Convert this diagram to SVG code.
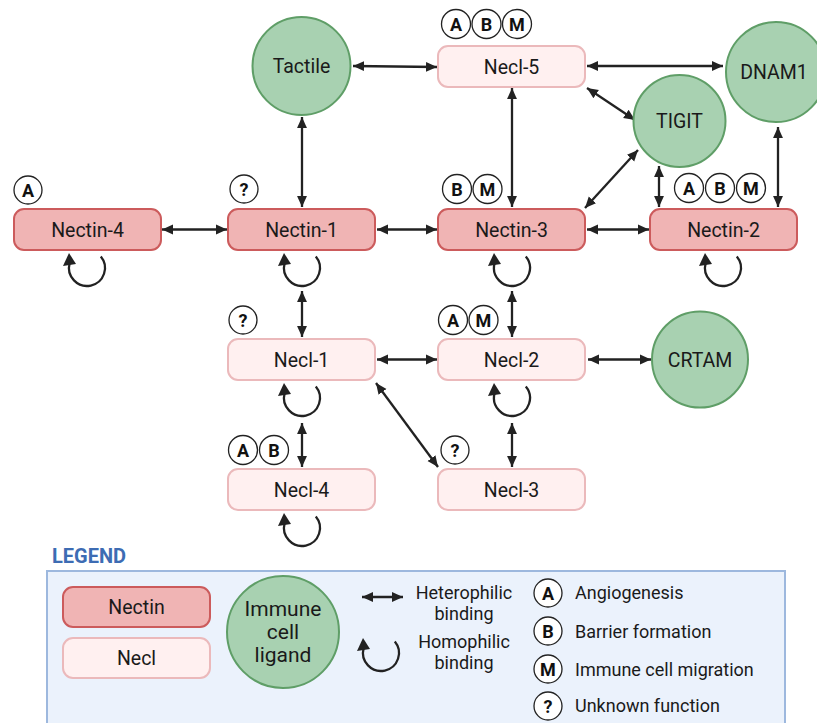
<svg xmlns="http://www.w3.org/2000/svg" xmlns:xlink="http://www.w3.org/1999/xlink" width="817" height="723" viewBox="0 0 817 723">
<defs>
<style>
.nectin{fill:#f0b4b4;stroke:#cc5b5c;stroke-width:2}
.necl{fill:#fff0f0;stroke:#ebb9bb;stroke-width:2}
.lig{fill:#a8d1b1;stroke:#5f9e67;stroke-width:2}
.lbl{font-family:Roboto,"Liberation Sans",sans-serif;font-size:19.5px;fill:#1a1a1a;text-anchor:middle}
.bdg circle{fill:#fff;stroke:#222;stroke-width:1.3}
.bdg text{font-family:Roboto,"Liberation Sans",sans-serif;font-size:18px;font-weight:bold;fill:#111;text-anchor:middle}
.con line{stroke:#222;stroke-width:2.3;marker-start:url(#ah);marker-end:url(#ah)}
.homo path{fill:none;stroke:#222;stroke-width:2.3}
.homo polygon{fill:#222}
.leg{font-family:Roboto,"Liberation Sans",sans-serif;font-size:18px;fill:#1a1a1a}
</style>
<marker id="ah" viewBox="0 0 10 10" refX="10" refY="5" markerWidth="11" markerHeight="11" orient="auto-start-reverse" markerUnits="userSpaceOnUse">
<path d="M0,0.5 L10,5 L0,9.5 z" fill="#222"/>
</marker>
<g id="homo" class="homo">
<path d="M13.8,-11.6 A18 18 0 1 1 -17.4,-4.7"/>
<polygon points="-18,-15 -24,-2 -11,-4"/>
</g>
</defs>

<g id="connectors" class="con">
<line x1="162" y1="229.5" x2="227" y2="229.5"/>
<line x1="377" y1="229.5" x2="437" y2="229.5"/>
<line x1="587" y1="229.5" x2="649" y2="229.5"/>
<line x1="353" y1="66" x2="437" y2="67"/>
<line x1="587" y1="66" x2="723" y2="66"/>
<line x1="302" y1="117" x2="302" y2="207"/>
<line x1="512" y1="88" x2="512" y2="207"/>
<line x1="587" y1="88" x2="635" y2="120"/>
<line x1="585" y1="208" x2="638" y2="150"/>
<line x1="659" y1="166" x2="659" y2="207"/>
<line x1="778" y1="127" x2="778" y2="207"/>
<line x1="302" y1="291" x2="302" y2="337"/>
<line x1="512" y1="291" x2="512" y2="337"/>
<line x1="377" y1="359.5" x2="437" y2="359.5"/>
<line x1="588" y1="359.5" x2="651" y2="359.5"/>
<line x1="376" y1="383" x2="438" y2="467"/>
<line x1="302" y1="423" x2="302" y2="467"/>
<line x1="512" y1="423" x2="512" y2="467"/>
</g>

<g id="homophilic">
<use xlink:href="#homo" href="#homo" x="87" y="268"/>
<use xlink:href="#homo" href="#homo" x="302" y="268"/>
<use xlink:href="#homo" href="#homo" x="512" y="268"/>
<use xlink:href="#homo" href="#homo" x="723" y="268"/>
<use xlink:href="#homo" href="#homo" x="302" y="398"/>
<use xlink:href="#homo" href="#homo" x="512" y="398"/>
<use xlink:href="#homo" href="#homo" x="302" y="528"/>
</g>

<g id="tactile"><circle class="lig" cx="301.5" cy="66" r="49"/><text class="lbl" x="301.5" y="73">Tactile</text></g>
<g id="dnam1"><circle class="lig" cx="776" cy="72" r="50"/><text class="lbl" x="774" y="79">DNAM1</text></g>
<g id="tigit"><circle class="lig" cx="679.5" cy="121" r="46"/><text class="lbl" x="679.5" y="128">TIGIT</text></g>
<g id="crtam"><circle class="lig" cx="700" cy="359.5" r="48"/><text class="lbl" x="700" y="366.5">CRTAM</text></g>

<g id="nectin-4"><rect class="nectin" x="14" y="209" width="147" height="41" rx="10"/><text class="lbl" x="87.5" y="236.5">Nectin-4</text>
<g class="bdg"><circle cx="28" cy="190" r="14"/><text x="28" y="196.5">A</text></g></g>
<g id="nectin-1"><rect class="nectin" x="228" y="209" width="147" height="41" rx="10"/><text class="lbl" x="301.5" y="236.5">Nectin-1</text>
<g class="bdg"><circle cx="244" cy="189" r="14"/><text x="244" y="195.5">?</text></g></g>
<g id="nectin-3"><rect class="nectin" x="438" y="209" width="147" height="41" rx="10"/><text class="lbl" x="511.5" y="236.5">Nectin-3</text>
<g class="bdg"><circle cx="457" cy="189" r="14.5"/><text x="457" y="195.5">B</text><circle cx="487.5" cy="189" r="14.5"/><text x="487.5" y="195.5">M</text></g></g>
<g id="nectin-2"><rect class="nectin" x="650" y="209" width="147" height="41" rx="10"/><text class="lbl" x="723.5" y="236.5">Nectin-2</text>
<g class="bdg"><circle cx="689" cy="188" r="14.5"/><text x="689" y="194.5">A</text><circle cx="720" cy="188" r="14.5"/><text x="720" y="194.5">B</text><circle cx="751" cy="188" r="14.5"/><text x="751" y="194.5">M</text></g></g>
<g id="necl-5"><rect class="necl" x="438" y="46" width="147" height="41" rx="10"/><text class="lbl" x="511.5" y="73.5">Necl-5</text>
<g class="bdg"><circle cx="456" cy="24" r="14.5"/><text x="456" y="30.5">A</text><circle cx="486.5" cy="24" r="14.5"/><text x="486.5" y="30.5">B</text><circle cx="517" cy="24" r="14.5"/><text x="517" y="30.5">M</text></g></g>
<g id="necl-1"><rect class="necl" x="228" y="339" width="147" height="41" rx="10"/><text class="lbl" x="301.5" y="366.5">Necl-1</text>
<g class="bdg"><circle cx="243" cy="320" r="14"/><text x="243" y="326.5">?</text></g></g>
<g id="necl-2"><rect class="necl" x="438" y="339" width="147" height="41" rx="10"/><text class="lbl" x="511.5" y="366.5">Necl-2</text>
<g class="bdg"><circle cx="453" cy="320" r="14.5"/><text x="453" y="326.5">A</text><circle cx="483.5" cy="320" r="14.5"/><text x="483.5" y="326.5">M</text></g></g>
<g id="necl-4"><rect class="necl" x="228" y="469" width="147" height="41" rx="10"/><text class="lbl" x="301.5" y="496.5">Necl-4</text>
<g class="bdg"><circle cx="243" cy="450" r="14.5"/><text x="243" y="456.5">A</text><circle cx="274" cy="450" r="14.5"/><text x="274" y="456.5">B</text></g></g>
<g id="necl-3"><rect class="necl" x="438" y="469" width="147" height="41" rx="10"/><text class="lbl" x="511.5" y="496.5">Necl-3</text>
<g class="bdg"><circle cx="455" cy="450" r="14"/><text x="455" y="456.5">?</text></g></g>

<g id="legend">
<text x="52" y="563" font-family="Roboto,'Liberation Sans',sans-serif" font-size="20" font-weight="bold" fill="#3d6cb3">LEGEND</text>
<rect x="47" y="571" width="738" height="170" fill="#ebf2fc" stroke="#9db8de" stroke-width="2"/>
<rect class="nectin" x="63" y="587" width="147" height="40" rx="10"/><text class="lbl" x="136.5" y="614">Nectin</text>
<rect class="necl" x="63" y="638" width="147" height="40" rx="10"/><text class="lbl" x="136.5" y="665">Necl</text>
<circle class="lig" cx="283" cy="632" r="56"/>
<text class="lbl" x="283" y="616" style="font-size:21px">Immune</text>
<text class="lbl" x="283" y="639" style="font-size:21px">cell</text>
<text class="lbl" x="283" y="662" style="font-size:21px">ligand</text>
<g class="con"><line x1="362" y1="597" x2="403" y2="597"/></g>
<g transform="translate(381 653)"><use xlink:href="#homo" href="#homo"/></g>
<text class="leg" x="464" y="599" text-anchor="middle">Heterophilic</text>
<text class="leg" x="464" y="620" text-anchor="middle">binding</text>
<text class="leg" x="464" y="648" text-anchor="middle">Homophilic</text>
<text class="leg" x="464" y="669" text-anchor="middle">binding</text>
<g class="bdg"><circle cx="548" cy="593" r="14"/><text x="548" y="599.5">A</text>
<circle cx="548" cy="631" r="14"/><text x="548" y="637.5">B</text>
<circle cx="548" cy="669" r="14"/><text x="548" y="675.5">M</text>
<circle cx="548" cy="706" r="14"/><text x="548" y="712.5">?</text></g>
<text class="leg" x="575" y="599">Angiogenesis</text>
<text class="leg" x="575" y="638">Barrier formation</text>
<text class="leg" x="575" y="676">Immune cell migration</text>
<text class="leg" x="575" y="712">Unknown function</text>
</g>
</svg>
